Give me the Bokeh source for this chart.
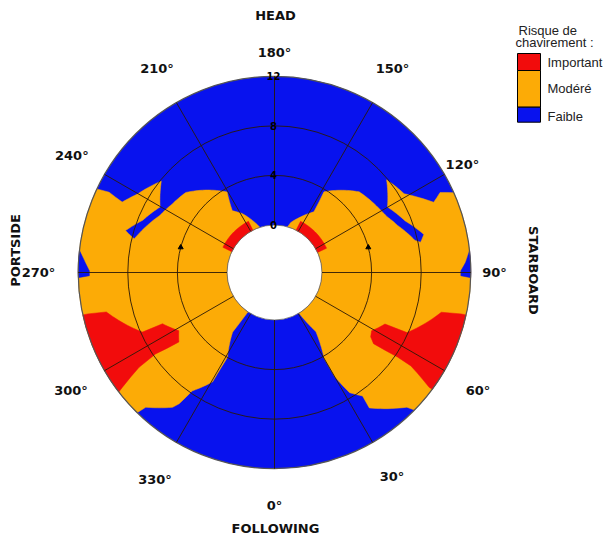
import numpy as np
from bokeh.plotting import figure
from bokeh.models import ColumnDataSource, Range1d
from bokeh.embed import file_html
from bokeh.resources import INLINE
from bokeh.core.properties import value

# ---------------- data (heading in degrees: 0 = following sea, 90 = starboard; speed in knots) ----------------
speed_ticks = [0, 4, 8, 12]
speed_tick_labels = ["0", "4", "8", "12"]
heading_ticks = [0, 30, 60, 90, 120, 150, 180, 210, 240, 270, 300, 330]
heading_labels = ["0°", "30°", "60°", "90°", "120°", "150°", "180°", "210°", "240°", "270°", "300°", "330°"]
direction_names = ["FOLLOWING", "STARBOARD", "HEAD", "PORTSIDE"]
direction_headings = [0, 90, 180, 270]
legend_title = ["Risque de", "chavirement :"]
risk_levels = ["Important", "Modéré", "Faible"]

# "Modéré" zone, starboard side (polygon vertices)
moderate_stbd_hdg = [31, 164, 162, 155, 147, 148.5, 133.6, 120.3, 116.4, 110.9,
                     102.8, 101.7, 104.3, 111.5, 115.8, 120.1, 129.6, 121.3, 117.4, 113.8,
                     115.8, 114, 45.5, 44.5, 35, 35.5, 32, 30, 30, 35]
moderate_stbd_spd = [0, 0, 0.4, 1.1, 2.0, 3.8, 5.6, 6.1, 6.3, 6.8,
                     7.8, 8.2, 8.6, 7.5, 7.1, 6.7, 7.9, 8.4, 9.3, 10.2,
                     11.0, 12, 12, 11.4, 9.5, 8.4, 7.6, 5.9, 4.2, 2.0]
# "Modéré" zone, port side
moderate_port_hdg = [326, 198, 200, 208.8, 214.3, 210.5, 227.9, 236.3, 243.6, 256.5,
                     254.3, 248.4, 240.2, 231.1, 240.2, 245.2, 244.1, 244.8, 315.6, 316.3,
                     322.9, 324, 325.2, 330.5, 330.6, 331, 324.9]
moderate_port_spd = [0, 0, 0.3, 1.6, 2.2, 3.7, 5.8, 6.1, 6.5, 7.8,
                     8.65, 7.6, 6.8, 7.9, 8.9, 9.7, 11.0, 12, 12, 11.2,
                     9.8, 9.25, 7.8, 6.3, 5.55, 4.0, 2.05]
# "Important" zones
important_stbd_low_hdg = [115, 153, 153, 115]
important_stbd_low_spd = [0, 0, 0.8, 0.8]
important_port_low_hdg = [207, 244, 244, 207]
important_port_low_spd = [0, 0, 0.8, 0.8]
important_stbd_hdg = [59, 65, 65.6, 76.6, 77.5, 77.5, 53.5, 53.4, 55.6, 55.5, 54.3, 56.2]
important_stbd_spd = [5.3, 6.0, 7.9, 10.0, 11.6, 12, 12, 11.7, 9.5, 8.2, 6.0, 5.5]
important_port_hdg = [301.3, 294.6, 294.3, 283.2, 282.5, 282.5, 307.5, 307, 305, 304.4, 306]
important_port_spd = [5.2, 6.1, 7.85, 10.1, 11.6, 12, 12, 11.5, 9.5, 7.8, 5.7]
# "Faible" pockets inside the Modéré zone (beam seas, high speed)
low_stbd_hdg = [96.5, 93, 90.5, 89, 88.5]
low_stbd_spd = [12, 11.6, 11.2, 11.2, 12]
low_port_hdg = [263.5, 266, 269.5, 271, 271.5]
low_port_spd = [12, 11.6, 11.1, 11.1, 12]

# ---------------- style ----------------
RED, ORANGE, BLUE = "#f20c0c", "#fcab06", "#0812ee"
GRID = "#2b1a08"
R0, K = 47.5, 12.4   # radial scale: radius of the hole and pixels per knot


def rad(s):
    return R0 + K * np.asarray(s, dtype=float)


def to_xy(h, s):
    r = rad(s)
    t = np.radians(np.asarray(h, dtype=float))
    return r * np.sin(t), -r * np.cos(t)


def outline(hdg, spd, step=1.0):
    hs, ss = [], []
    n = len(hdg)
    for i in range(n):
        h1, s1 = hdg[i], spd[i]
        h2, s2 = hdg[(i + 1) % n], spd[(i + 1) % n]
        m = max(1, int(np.ceil(abs(h2 - h1) / step)))
        t = np.arange(m) / m
        hs.extend(h1 + (h2 - h1) * t)
        ss.extend(s1 + (s2 - s1) * t)
    x, y = to_xy(hs, ss)
    return list(x), list(y)


p = figure(width=605, height=537, x_range=Range1d(-274, 331), y_range=Range1d(-265, 272),
           output_backend="svg", toolbar_location=None, min_border=0)
p.axis.visible = False
p.xgrid.visible = False
p.ygrid.visible = False
p.outline_line_color = None
p.background_fill_color = "white"

smax = speed_ticks[-1]
# base: Faible everywhere
p.annulus(x=0, y=0, inner_radius=float(rad(0)), outer_radius=float(rad(smax)),
          fill_color=BLUE, line_color=None)

zones = [
    (moderate_stbd_hdg, moderate_stbd_spd, ORANGE),
    (moderate_port_hdg, moderate_port_spd, ORANGE),
    (low_stbd_hdg, low_stbd_spd, BLUE),
    (low_port_hdg, low_port_spd, BLUE),
    (important_stbd_low_hdg, important_stbd_low_spd, RED),
    (important_port_low_hdg, important_port_low_spd, RED),
    (important_stbd_hdg, important_stbd_spd, RED),
    (important_port_hdg, important_port_spd, RED),
]
xs, ys, cs = [], [], []
for h, s, c in zones:
    x, y = outline(h, s)
    xs.append(x)
    ys.append(y)
    cs.append(c)
p.patches(xs=xs, ys=ys, fill_color=cs, line_color=cs, line_width=0.5)

# grid: rings and spokes
for s in speed_ticks[1:-1]:
    p.circle(x=0, y=0, radius=float(rad(s)), fill_color=None, line_color=GRID, line_width=1, line_alpha=0.9)
p.circle(x=0, y=0, radius=float(rad(smax)), fill_color=None, line_color="#555555", line_width=1.2)
p.circle(x=0, y=0, radius=float(rad(0)), fill_color=None, line_color="#666666", line_width=0.8)
x0, y0 = to_xy(heading_ticks, [0] * len(heading_ticks))
x1, y1 = to_xy(heading_ticks, [smax] * len(heading_ticks))
p.segment(x0=x0, y0=y0, x1=x1, y1=y1, line_color=GRID, line_width=1, line_alpha=0.9)

# small ring markers
mx, my = to_xy([105, 255], [4, 4])
p.scatter(x=mx, y=my, marker="triangle", size=5, fill_color="black", line_color="black")

# radial tick labels along the 180° spoke
tx, ty = to_xy([180] * 4, speed_ticks)
p.text(x=tx - 1, y=ty, text=speed_tick_labels, text_font=value("DejaVu Sans"), text_font_style="bold",
       text_font_size="10px", text_align="center", text_baseline="middle", text_color="black")

# heading labels
label_r = [233, 235, 235, 220, 217, 236, 220, 235, 234, 236, 235, 239]
t = np.radians(heading_ticks)
lx = np.array(label_r) * np.sin(t)
ly = -np.array(label_r) * np.cos(t)
p.text(x=lx, y=ly, text=heading_labels, text_font=value("DejaVu Sans"), text_font_style="bold",
       text_font_size="13px", text_align="center", text_baseline="middle", text_color="#111111")

# direction names
dir_pos = {0: (1, -256, 0.0), 90: (259, 2, -np.pi / 2), 180: (1, 257, 0.0), 270: (-259, 22, np.pi / 2)}
dsrc = ColumnDataSource(dict(
    x=[dir_pos[h][0] for h in direction_headings],
    y=[dir_pos[h][1] for h in direction_headings],
    a=[dir_pos[h][2] for h in direction_headings],
    t=direction_names))
p.text(x="x", y="y", angle="a", text="t", source=dsrc, text_font=value("DejaVu Sans"),
       text_font_style="bold", text_font_size="13px", text_align="center", text_baseline="middle",
       text_color="#111111")

# legend
p.text(x=[244, 241], y=[242, 230], text=legend_title, text_font=value("Liberation Sans"),
       text_font_size="13px", text_align="left", text_baseline="middle", text_color="#222222")
p.quad(left=[243, 243, 243], right=[266, 266, 266], top=[219, 202, 165.3], bottom=[202, 165.3, 150.3],
       fill_color=[RED, ORANGE, BLUE], line_color="black", line_width=1)
p.text(x=[273, 273, 273], y=[210, 184, 156], text=risk_levels, text_font=value("Liberation Sans"),
       text_font_size="13px", text_align="left", text_baseline="middle", text_color="#222222")

open("out.html", "w").write(file_html(p, INLINE))
